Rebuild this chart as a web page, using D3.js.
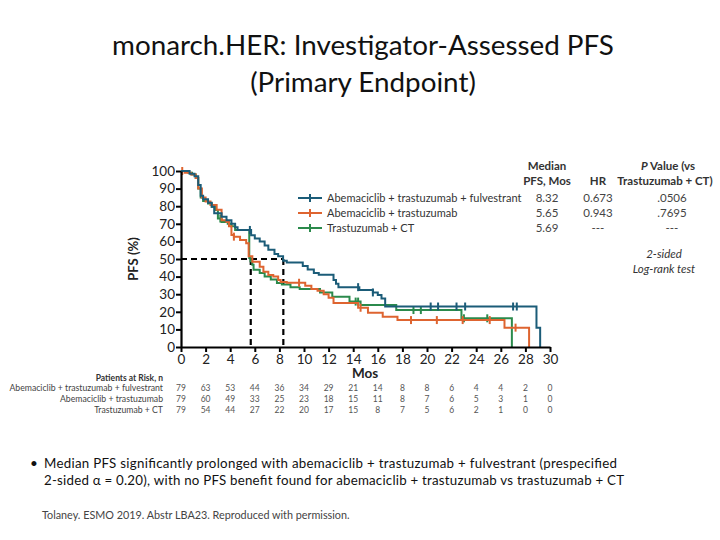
<!DOCTYPE html>
<html>
<head>
<meta charset="utf-8">
<script src="https://cdn.jsdelivr.net/npm/d3@7"></script>
<style>
  body { margin: 0; background: #fff; }
  svg { font-family: Lato, "Open Sans", sans-serif; }
</style>
</head>
<body>
<div id="chart"></div>
<script>
// step curves: [month, PFS %] = value from that month on
var abemaTrastFulv = [[0,100],[0.7,98.5],[1.1,97],[1.4,92],[1.6,86],[1.8,84],[2.2,82],[2.5,79.7],[2.7,76],[3.3,74],[3.7,72],[4.1,70],[4.4,68],[4.6,66.5],[5.7,63.5],[6.0,61.7],[6.4,60],[6.8,57.6],[7.1,55.3],[7.6,52.8],[7.9,51.5],[8.3,49],[8.6,48],[9.9,46],[10.3,44],[10.8,42],[11.2,41],[12.4,38],[12.6,36],[12.8,34],[14.5,32.4],[15.6,31],[16.0,29.5],[16.3,27.6],[16.6,23],[28.9,11],[29.2,0]];
var abemaTrast = [[0,100],[0.3,99],[0.8,98],[1.2,96],[1.4,90],[1.7,85],[2.0,82.6],[2.4,80.7],[2.9,78],[3.3,72],[3.7,71],[3.9,68.6],[4.1,63.6],[4.3,62.7],[4.8,60.8],[5.3,59],[5.5,51.5],[5.8,48.5],[6.4,45.6],[6.7,42.8],[7.1,40.9],[7.5,40],[7.9,38],[8.1,37],[8.6,36.5],[10.1,34.8],[10.6,33],[11.1,32],[11.6,30],[12.0,28],[12.4,25],[14.4,22.3],[15.2,19.5],[16.4,17.2],[17.6,15.3],[26.3,11],[28.3,0]];
var trastCT = [[0,100],[0.6,99],[0.9,98],[1.2,96],[1.4,90],[1.6,85],[1.8,83],[2.2,81.6],[2.5,79.7],[2.8,77.8],[3.0,73],[3.3,71],[3.8,70],[4.1,68.6],[4.4,66.5],[5.55,50.6],[5.65,48.7],[5.8,46.7],[5.9,43.9],[6.4,42],[6.8,40],[7.3,38.3],[7.8,36.4],[8.2,35.5],[8.9,34],[9.65,33],[11.3,31],[12.3,28.6],[13.7,25.8],[14.6,23.8],[17.5,21],[22.8,16.3],[26.9,0]];

// censor times (months)
var censorATF = [5.6, 14.4, 15.6, 20.3, 20.9, 22.4, 23.1, 27.0, 27.3];
var censorAT = [0.1, 4.3, 9.6, 14.6, 18.7, 20.8, 22.9, 25.1, 27.2];
var censorTCT = [3.2, 14.2, 14.4, 18.9, 19.5, 23.0, 24.9];

var seriesNames = ["Abemaciclib + trastuzumab + fulvestrant", "Abemaciclib + trastuzumab", "Trastuzumab + CT"];
var seriesColors = ["#1b5c78", "#de6430", "#2b8a4c"];
var medians = ["8.32", "5.65", "5.69"];
var hrs = ["0.673", "0.943", "---"];
var pvals = [".0506", ".7695", "---"];
var medianLines = [5.67, 8.32];

var xTicks = [0,2,4,6,8,10,12,14,16,18,20,22,24,26,28,30];
var yTicks = [0,10,20,30,40,50,60,70,80,90,100];
var atRisk = [
  [79,63,53,44,36,34,29,21,14,8,8,6,4,4,2,0],
  [79,60,49,33,25,23,18,15,11,8,7,6,5,3,1,0],
  [79,54,44,27,22,20,17,15,8,7,5,6,2,1,0,0]
];

var svg = d3.select("#chart").append("svg")
  .attr("width", 720).attr("height", 540);

// title
svg.append("text").attr("x", 363).attr("y", 55).attr("text-anchor", "middle")
  .attr("font-size", 27.8).attr("fill", "#111").text("monarch.HER: Investigator-Assessed PFS");
svg.append("text").attr("x", 363).attr("y", 92).attr("text-anchor", "middle")
  .attr("font-size", 27.8).attr("fill", "#111").text("(Primary Endpoint)");

var x = d3.scaleLinear().domain([0, 30]).range([181, 550]);
var y = d3.scaleLinear().domain([0, 100]).range([347, 171]);

function stepAt(data, t) {
  var v = data[0][1];
  data.forEach(function(d){ if (d[0] <= t) v = d[1]; });
  return v;
}

// median dashed lines
var dash = svg.append("g").attr("stroke", "#000").attr("stroke-width", 2.2)
  .attr("stroke-dasharray", "6,4").attr("fill", "none");
dash.append("line").attr("x1", x(0)).attr("x2", x(medianLines[1]))
  .attr("y1", y(50)).attr("y2", y(50));
medianLines.forEach(function(m){
  dash.append("line").attr("x1", x(m)).attr("x2", x(m)).attr("y1", y(50)).attr("y2", y(0));
});

// curves
var line = d3.line().x(d => x(d[0])).y(d => y(d[1])).curve(d3.curveStepAfter);
var curves = [abemaTrastFulv, abemaTrast, trastCT];
var censors = [censorATF, censorAT, censorTCT];
[2, 1, 0].forEach(function(i){
  svg.append("path").datum(curves[i]).attr("d", line)
    .attr("fill", "none").attr("stroke", seriesColors[i]).attr("stroke-width", 2);
  svg.append("g").selectAll("line").data(censors[i]).enter().append("line")
    .attr("x1", d => x(d)).attr("x2", d => x(d))
    .attr("y1", d => y(stepAt(curves[i], d)) - 4)
    .attr("y2", d => y(stepAt(curves[i], d)) + 4)
    .attr("stroke", seriesColors[i]).attr("stroke-width", 2);
});

// axes
var xAxis = svg.append("g").attr("transform", "translate(0," + y(0) + ")")
  .call(d3.axisBottom(x).tickValues(xTicks).tickSize(5).tickSizeOuter(0));
var yAxis = svg.append("g").attr("transform", "translate(" + x(0) + ",0)")
  .call(d3.axisLeft(y).tickValues(yTicks).tickSize(5).tickSizeOuter(0));
[xAxis, yAxis].forEach(function(a){
  a.select(".domain").attr("stroke", "#000").attr("stroke-width", 2.2);
  a.selectAll(".tick line").attr("stroke", "#000").attr("stroke-width", 2);
  a.selectAll(".tick text").attr("font-size", 13.5).attr("fill", "#222")
    .attr("font-family", "Lato, sans-serif");
});
yAxis.selectAll(".tick text").attr("x", -6);
xAxis.selectAll(".tick text").attr("y", 7);

svg.append("text").attr("x", 365).attr("y", 378).attr("text-anchor", "middle")
  .attr("font-size", 13.5).attr("font-weight", "bold").attr("fill", "#222").text("Mos");
svg.append("text").attr("transform", "translate(138,259) rotate(-90)")
  .attr("text-anchor", "middle").attr("font-size", 13).attr("font-weight", "bold")
  .attr("fill", "#222").text("PFS (%)");

// legend + table
var legY = [198, 213, 228];
seriesNames.forEach(function(n, i){
  var g = svg.append("g").attr("stroke", seriesColors[i]).attr("stroke-width", 2);
  g.append("line").attr("x1", 298).attr("x2", 322).attr("y1", legY[i]).attr("y2", legY[i]);
  g.append("line").attr("x1", 310).attr("x2", 310).attr("y1", legY[i] - 4).attr("y2", legY[i] + 4);
  svg.append("text").attr("x", 327).attr("y", legY[i] + 4).attr("font-size", 11)
    .attr("fill", "#333").text(n);
  svg.append("text").attr("x", 547).attr("y", legY[i] + 4).attr("text-anchor", "middle")
    .attr("font-size", 11.5).attr("fill", "#444").text(medians[i]);
  svg.append("text").attr("x", 598).attr("y", legY[i] + 4).attr("text-anchor", "middle")
    .attr("font-size", 11.5).attr("fill", "#444").text(hrs[i]);
  svg.append("text").attr("x", 672).attr("y", legY[i] + 4).attr("text-anchor", "middle")
    .attr("font-size", 11.5).attr("fill", "#444").text(pvals[i]);
});
var hdr = svg.append("g").attr("font-size", 11.5).attr("font-weight", "bold")
  .attr("fill", "#333").attr("text-anchor", "middle");
hdr.append("text").attr("x", 547).attr("y", 170).text("Median");
hdr.append("text").attr("x", 547).attr("y", 185).text("PFS, Mos");
hdr.append("text").attr("x", 598).attr("y", 185).text("HR");
var pv = hdr.append("text").attr("x", 668).attr("y", 170);
pv.append("tspan").attr("font-style", "italic").text("P");
pv.append("tspan").text(" Value (vs");
hdr.append("text").attr("x", 665).attr("y", 185).text("Trastuzumab + CT)");
var ls = svg.append("g").attr("font-size", 11.5).attr("font-style", "italic")
  .attr("fill", "#333").attr("text-anchor", "middle");
ls.append("text").attr("x", 664).attr("y", 258).text("2-sided");
ls.append("text").attr("x", 664).attr("y", 273).text("Log-rank test");

// patients at risk
svg.append("text").attr("x", 163).attr("y", 381).attr("text-anchor", "end")
  .attr("font-size", 8.5).attr("font-weight", "bold").attr("fill", "#333").text("Patients at Risk, n");
var rowY = [391, 402, 413];
atRisk.forEach(function(row, i){
  svg.append("text").attr("x", 163).attr("y", rowY[i]).attr("text-anchor", "end")
    .attr("font-size", 8.7).attr("fill", "#444").text(seriesNames[i]);
  svg.append("g").selectAll("text").data(row).enter().append("text")
    .attr("x", (d, j) => x(xTicks[j])).attr("y", rowY[i]).attr("text-anchor", "middle")
    .attr("font-size", 8.5).attr("fill", "#555").text(d => d);
});

// bullet and footnote
svg.append("text").attr("x", 30).attr("y", 468).attr("font-size", 13.5).attr("fill", "#111").text("•");
svg.append("text").attr("x", 44).attr("y", 468).attr("font-size", 13.3).attr("fill", "#111")
  .attr("textLength", 573).attr("lengthAdjust", "spacing")
  .text("Median PFS significantly prolonged with abemaciclib + trastuzumab + fulvestrant (prespecified");
svg.append("text").attr("x", 44).attr("y", 484.5).attr("font-size", 13.3).attr("fill", "#111")
  .attr("textLength", 580).attr("lengthAdjust", "spacing")
  .text("2-sided \u03b1 = 0.20), with no PFS benefit found for abemaciclib + trastuzumab vs trastuzumab + CT");
svg.append("text").attr("x", 42).attr("y", 519).attr("font-size", 10.8).attr("fill", "#444")
  .text("Tolaney. ESMO 2019. Abstr LBA23. Reproduced with permission.");
</script>
</body>
</html>
